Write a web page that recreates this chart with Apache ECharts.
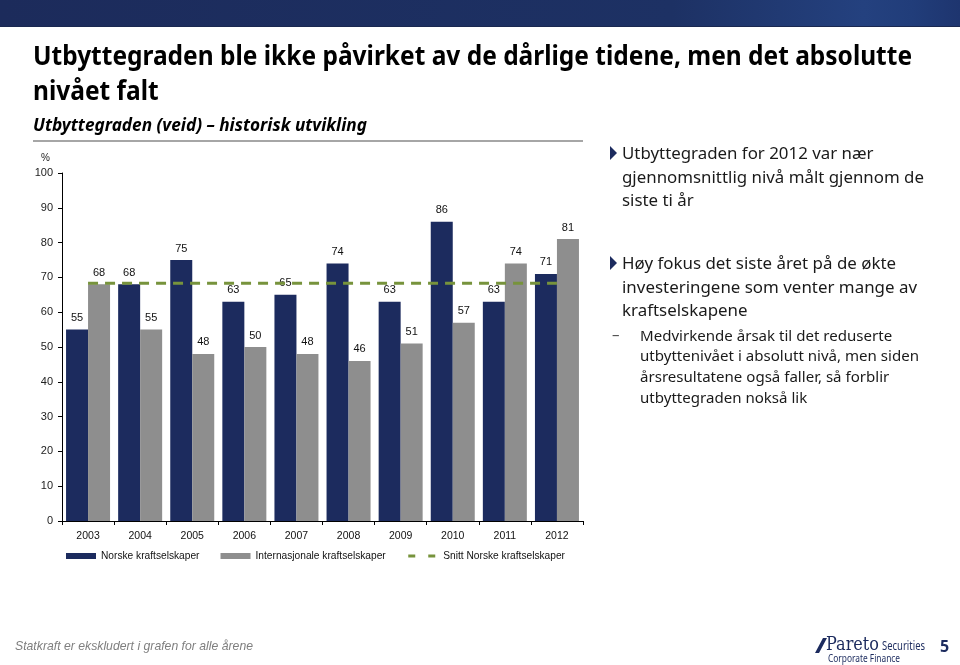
<!DOCTYPE html>
<html><head><meta charset="utf-8">
<script src="https://cdn.jsdelivr.net/npm/echarts@6/dist/echarts.min.js"></script>
<style>html,body{margin:0;padding:0;background:#fff}#c{width:960px;height:665px}</style>
</head><body><div id="c"></div>
<script>
const years = ['2003','2004','2005','2006','2007','2008','2009','2010','2011','2012'];
const norske = [55, 68, 75, 63, 65, 74, 63, 86, 63, 71];
const internasjonale = [68, 55, 48, 50, 48, 46, 51, 57, 74, 81];
const snittNorske = [68.3, 68.3, 68.3, 68.3, 68.3, 68.3, 68.3, 68.3, 68.3, 68.3];
const seriesNames = ['Norske kraftselskaper', 'Internasjonale kraftselskaper', 'Snitt Norske kraftselskaper'];

const NAVY = '#1c2b5e', GREY = '#8e8e8e', GREEN = '#77933c';
const SANS = "'Noto Sans','Open Sans',sans-serif";
const ARIAL = "'Liberation Sans',Arial,sans-serif";

const cv = document.createElement('canvas').getContext('2d');
function measure(text, size, family, weight, style) {
  cv.font = `${style || 'normal'} ${weight || 'normal'} ${size}px ${family}`;
  return cv.measureText(text).width;
}
function textEl(text, x, y, size, family, weight, style, color, scaleX) {
  return { type: 'text', x: x, y: y, scaleX: scaleX || 1, silent: true,
    style: { text: text, fontSize: size, fontFamily: family, fontWeight: weight || 'normal',
      fontStyle: style || 'normal', fill: color, align: 'left', verticalAlign: 'middle' } };
}
function block(lines, x, size, family, weight, style, color, widest, targetW) {
  const s = targetW / measure(widest, size, family, weight, style);
  return lines.map(l => textEl(l[0], x, l[1], size, family, weight, style, color, s));
}

const graphics = [];
graphics.push({ type: 'rect', silent: true, shape: { x: 0, y: 0, width: 960, height: 27 },
  style: { fill: new echarts.graphic.LinearGradient(0, 0, 1, 0, [
    { offset: 0, color: '#1c2b5b' }, { offset: 0.7, color: '#1d3164' },
    { offset: 0.9, color: '#24417f' }, { offset: 0.95, color: '#213d7a' }, { offset: 1, color: '#1e356f' }]) } });
graphics.push({ type: 'rect', silent: true, shape: { x: 0, y: 26, width: 960, height: 1 }, style: { fill: '#1a2850' } });

// Title
const t1 = 'Utbyttegraden ble ikke påvirket av de dårlige tidene, men det absolutte';
graphics.push(...block([[t1, 58], ['nivået falt', 93]], 33, 26, SANS, 'bold', 'normal', '#000', t1, 879));
const st = 'Utbyttegraden (veid) – historisk utvikling';
graphics.push(...block([[st, 126]], 33, 18, SANS, 'bold', 'italic', '#000', st, 334));
graphics.push({ type: 'rect', silent: true, shape: { x: 33, y: 140, width: 550, height: 2 }, style: { fill: '#a6a6a6' } });

// % label
graphics.push(textEl('%', 41, 158, 10, ARIAL, 'normal', 'normal', '#222'));

// right text
function tri(x, y) {
  return { type: 'polygon', silent: true, shape: { points: [[x, y - 7], [x + 7, y], [x, y + 7]] }, style: { fill: NAVY } };
}
graphics.push(tri(610, 153));
graphics.push(tri(610, 263));
const b1w = 'gjennomsnittlig nivå målt gjennom de';
graphics.push(...block([['Utbyttegraden for 2012 var nær', 154], [b1w, 178], ['siste ti år', 201]], 622, 17, SANS, 'normal', 'normal', '#1a1a1a', b1w, 302));
const b2w = 'investeringene som venter mange av';
graphics.push(...block([['Høy fokus det siste året på de økte', 264], [b2w, 288], ['kraftselskapene', 311]], 622, 17, SANS, 'normal', 'normal', '#1a1a1a', b2w, 295));
const b3w = 'utbyttenivået i absolutt nivå, men siden';
graphics.push(textEl('–', 612, 336, 15, SANS, 'normal', 'normal', '#555'));
graphics.push(...block([['Medvirkende årsak til det reduserte', 337], [b3w, 357], ['årsresultatene også faller, så forblir', 378], ['utbyttegraden nokså lik', 399]], 640, 15, SANS, 'normal', 'normal', '#1a1a1a', b3w, 279));

// footer
graphics.push(textEl('Statkraft er ekskludert i grafen for alle årene', 15, 646, 13, ARIAL, 'normal', 'italic', '#7f7f7f',
  238 / measure('Statkraft er ekskludert i grafen for alle årene', 13, ARIAL, 'normal', 'italic')));
graphics.push({ type: 'polygon', silent: true, shape: { points: [[823, 638], [827, 638], [819, 653], [815, 653]] }, style: { fill: NAVY } });
graphics.push(textEl('Pareto', 826, 645, 19, "'DejaVu Serif',serif", 'normal', 'normal', NAVY, 53 / measure('Pareto', 19, "'DejaVu Serif',serif")));
graphics.push(textEl('Securities', 882, 646, 13, SANS, 'normal', 'normal', NAVY, 43 / measure('Securities', 13, SANS)));
graphics.push(textEl('Corporate Finance', 828, 659, 10, SANS, 'normal', 'normal', NAVY, 72 / measure('Corporate Finance', 10, SANS)));
graphics.push(textEl('5', 940, 647, 16, SANS, 'bold', 'normal', NAVY));

const chart = echarts.init(document.getElementById('c'), null, { renderer: 'canvas' });
chart.setOption({
  animation: false,
  backgroundColor: '#fff',
  grid: { left: 62, right: 377, top: 173, bottom: 144, containLabel: false },
  legend: {
    left: 61, top: 546, itemWidth: 30, itemHeight: 6, itemGap: 21,
    textStyle: { fontSize: 10.2, fontFamily: ARIAL, color: '#111' },
    data: [{ name: seriesNames[0], icon: 'rect' }, { name: seriesNames[1], icon: 'rect' },
      { name: seriesNames[2], itemStyle: { opacity: 0 }, lineStyle: { width: 3, type: [7, 13] } }]
  },
  xAxis: {
    type: 'category', data: years,
    axisLine: { lineStyle: { color: '#000', width: 1 } },
    axisTick: { show: true, length: 4, lineStyle: { color: '#000' } },
    axisLabel: { fontSize: 10.5, fontFamily: ARIAL, color: '#111', margin: 10 }
  },
  yAxis: {
    type: 'value', min: 0, max: 100, interval: 10,
    splitLine: { show: false },
    axisLine: { show: true, lineStyle: { color: '#000', width: 1 } },
    axisTick: { show: true, length: 4, lineStyle: { color: '#000' } },
    axisLabel: { fontSize: 11, fontFamily: ARIAL, color: '#222', margin: 9 }
  },
  series: [
    { name: seriesNames[0], type: 'bar', data: norske, barWidth: 22, barGap: '0%', itemStyle: { color: NAVY },
      label: { show: true, position: 'top', distance: 6, fontSize: 11, fontFamily: ARIAL, color: '#111' } },
    { name: seriesNames[1], type: 'bar', data: internasjonale, barWidth: 22, barGap: '0%', itemStyle: { color: GREY },
      label: { show: true, position: 'top', distance: 6, fontSize: 11, fontFamily: ARIAL, color: '#111' } },
    { name: seriesNames[2], type: 'line', data: snittNorske, symbol: 'none', z: 5,
      lineStyle: { color: GREEN, width: 3, type: [10, 7] }, itemStyle: { color: GREEN } }
  ],
  graphic: graphics
});
</script></body></html>
